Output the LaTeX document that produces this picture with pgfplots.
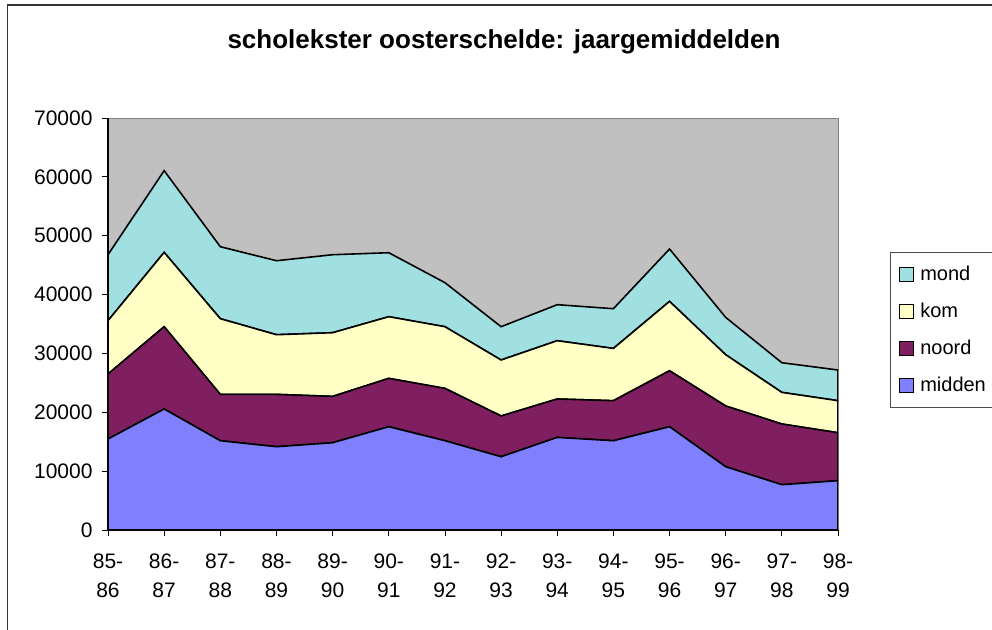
\documentclass[border=0pt]{standalone}
\usepackage{pgfplots}
\pgfplotsset{compat=1.18}
\usepackage{fontspec}
\setmainfont{Liberation Sans}
\definecolor{midden}{HTML}{8080FF}
\definecolor{noord}{HTML}{801F5F}
\definecolor{kom}{HTML}{FFFFC6}
\definecolor{mond}{HTML}{A0E0E0}
\definecolor{bg}{HTML}{C0C0C0}
\begin{document}
\begin{tikzpicture}[x=1bp,y=1bp]
\useasboundingbox (0,0) rectangle (992,630);
\draw[line width=1.2bp, black!80] (7.5,-10) rectangle (1005,625);
\node[font=\fontsize{26bp}{30bp}\selectfont\bfseries] at (504,588) {scholekster oosterschelde: jaargemiddelden};
\begin{axis}[
  at={(108bp,100bp)}, anchor=south west, scale only axis,
  width=730bp, height=412bp,
  xmin=0, xmax=13, ymin=0, ymax=70000,
  stack plots=y,
  axis lines=left, axis line style={-, line width=1.2bp, black},
  axis background/.style={fill=bg, draw=gray, line width=0.8bp},
  tick align=outside, major tick length=6bp,
  tick style={black, line width=0.8bp},
  xtick={0,...,13},
  xticklabels={{85-\\86},{86-\\87},{87-\\88},{88-\\89},{89-\\90},{90-\\91},{91-\\92},{92-\\93},{93-\\94},{94-\\95},{95-\\96},{96-\\97},{97-\\98},{98-\\99}},
  xticklabel style={align=center, font=\fontsize{21bp}{29.5bp}\selectfont, yshift=-14bp},
  ytick={0,10000,...,70000},
  yticklabel style={font=\fontsize{21bp}{24bp}\selectfont, xshift=-6bp},
  scaled y ticks=false,
  /pgf/number format/.cd, 1000 sep={}, assume math mode=true, /pgfplots/.cd,
  reverse legend,
  legend cell align=left,
  legend image code/.code={\draw[#1, draw=black, line width=0.9bp] (0bp,-7bp) rectangle (14bp,7bp);},
  legend style={at={(1.0712,0.675)}, anchor=north west, draw=black!70, fill=white,
    font=\fontsize{20bp}{23bp}\selectfont, row sep=17bp, column sep=4bp, inner xsep=9bp, inner ysep=12bp,
    line width=0.8bp},
]
\addplot[fill=midden, draw=black, line width=1.6bp] coordinates {(0,15460) (1,20560) (2,15170) (3,14150) (4,14830) (5,17550) (6,15170) (7,12450) (8,15730) (9,15170) (10,17550) (11,10750) (12,7700) (13,8380)} \closedcycle;
\addplot[fill=noord, draw=black, line width=1.6bp] coordinates {(0,11040) (1,13980) (2,7870) (3,8890) (4,7870) (5,8210) (6,8890) (7,6920) (8,6530) (9,6800) (10,9510) (11,10320) (12,10310) (13,8150)} \closedcycle;
\addplot[fill=kom, draw=black, line width=1.6bp] coordinates {(0,9060) (1,12630) (2,12860) (3,10140) (4,10820) (5,10480) (6,10480) (7,9510) (8,9900) (9,8880) (10,11780) (11,8710) (12,5370) (13,5440)} \closedcycle;
\addplot[fill=mond, draw=black, line width=1.6bp] coordinates {(0,11210) (1,13880) (2,12230) (3,12570) (4,13250) (5,10870) (6,7480) (7,5660) (8,6120) (9,6750) (10,8900) (11,6340) (12,5040) (13,5210)} \closedcycle;
\legend{midden\hspace*{20bp},noord,kom,mond}
\end{axis}
\end{tikzpicture}
\end{document}
